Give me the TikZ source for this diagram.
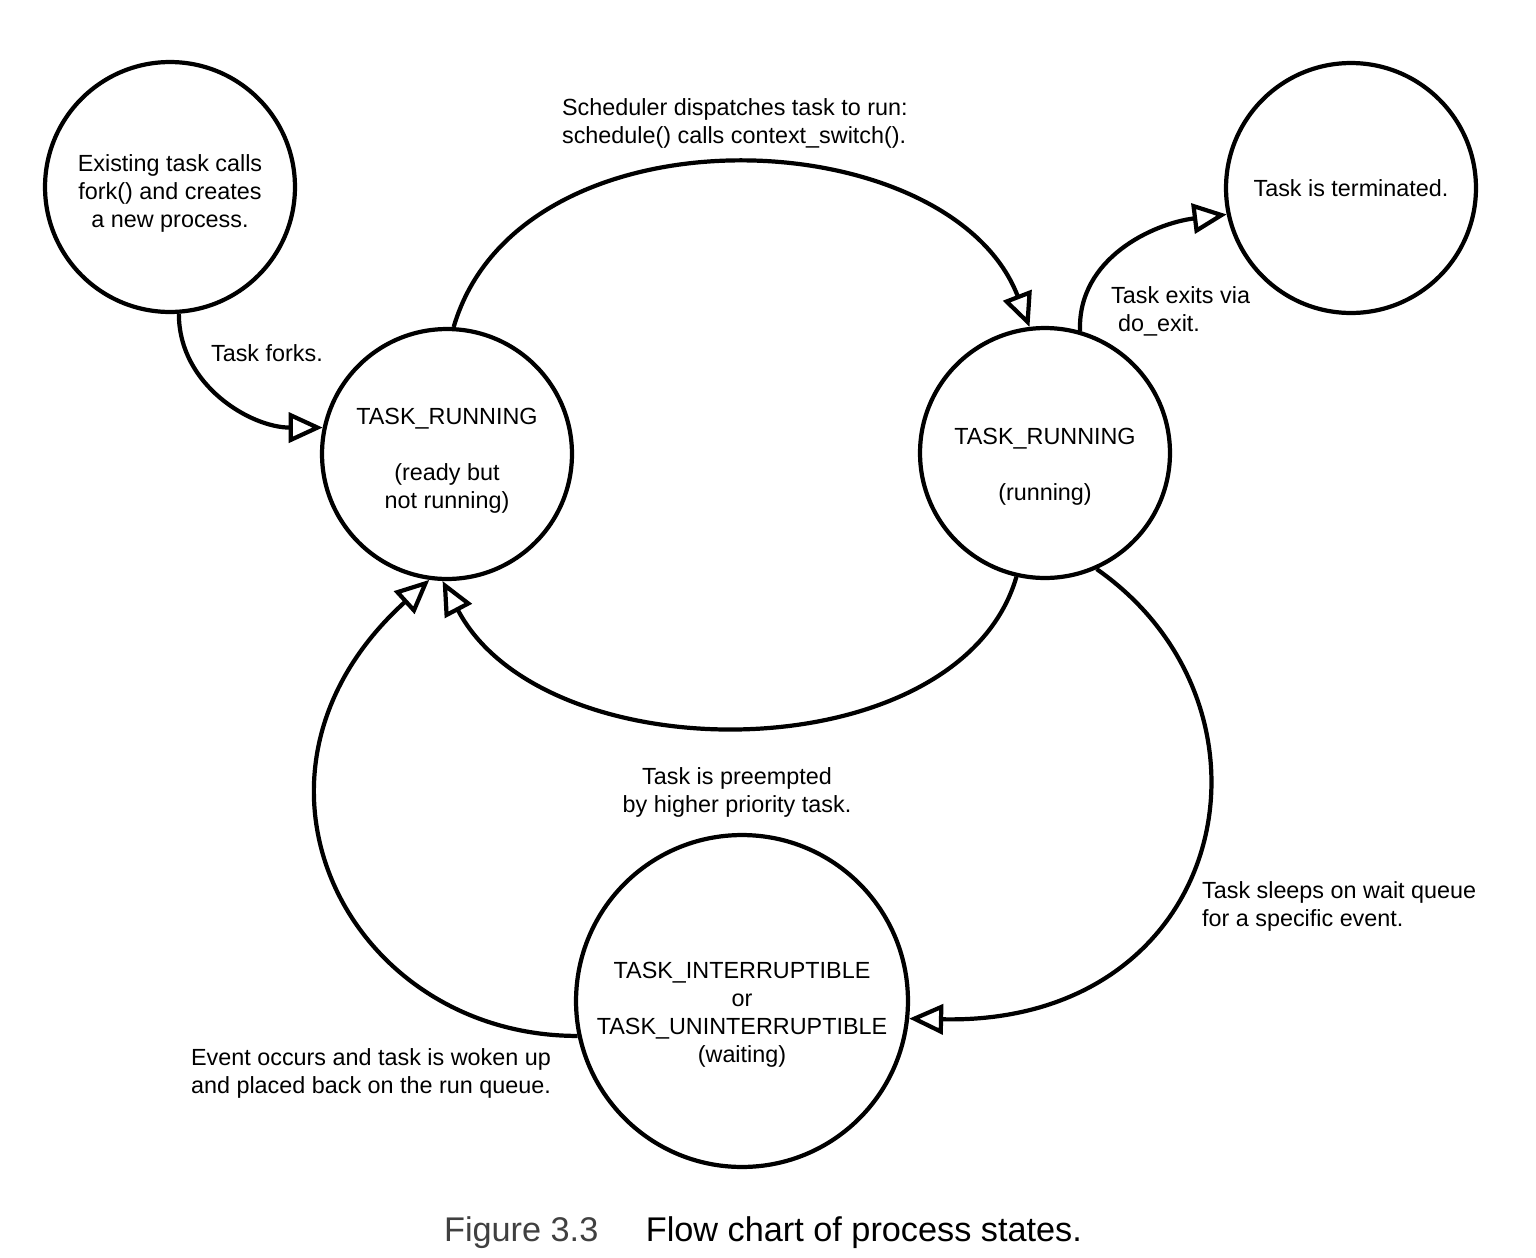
\documentclass[tikz,border=0pt]{standalone}
\usepackage{fontspec}
\setmainfont{Liberation Sans}
\usetikzlibrary{arrows.meta}

\begin{document}
\begin{tikzpicture}[x=0.02cm,y=0.02cm,line width=2.4pt,
  font=\fontsize{13.3}{15.9}\selectfont,
  etat/.style={circle,draw,minimum size=5cm,inner sep=0pt,align=center},
  fleche/.style={-{Triangle[open,length=0.68cm,width=0.6cm]}},
  note/.style={inner sep=0pt}]
\useasboundingbox (0,0) rectangle (1536,-1258);
% les etats
\foreach \nom/\x/\y/\haut/\texte in {nouv/170/-187/0.59cm/{Existing task calls\\fork() and creates\\a new process.},
  pret/447/-454/0.59cm/{TASK\_RUNNING\\[15.9pt](ready but\\not running)},
  actif/1045/-453/0.87cm/{TASK\_RUNNING\\[15.9pt](running)},
  fin/1351/-188/0pt/{Task is terminated.}}
  \node[etat] (\nom) at (\x,\y) {\rule{0pt}{\haut}\texte};
\node[etat,minimum size=6.64cm] (attente) at (742,-1001) {\rule{0pt}{0.87cm}TASK\_INTERRUPTIBLE\\or\\TASK\_UNINTERRUPTIBLE\\(waiting)};
% les transitions
\draw[fleche] (nouv.-86) to[out=-90,in=180] (pret.168);
\draw[fleche] (pret.87) .. controls +(66,226) and +(-80,208) .. (actif.97);
\draw[fleche] (actif.74) to[out=92,in=187] (fin.192);
\draw[fleche] (actif.-103) .. controls +(-57,-196) and +(103,-195) .. (pret.-92);
\draw[fleche] (actif.-66) .. controls +(200,-140) and +(320,-7) .. (attente.-6);
\draw[fleche] (attente.192) .. controls +(-230,0) and +(-215,-195) .. (pret.-98);
% les commentaires
\node[note,anchor=base west] (forks) at (209,-361) {Task forks.};
\node[note,anchor=west,align=left] (dispatch) at (560,-123) {Scheduler dispatches task to run:\\schedule() calls context\_switch().};
\node[note,anchor=west,align=left] (sortie) at (1109,-311) {Task exits via\\\hspace*{0.3em}do\_exit.};
\node[note,align=center] (preempt) at (737,-792) {Task is preempted\\by higher priority task.};
\node[note,anchor=west,align=left] (sommeil) at (1200,-906) {Task sleeps on wait queue\\for a specific event.};
\node[note,anchor=west,align=left] (reveil) at (189,-1073) {Event occurs and task is woken up\\and placed back on the run queue.};
\node[note,anchor=base west,font=\fontsize{19.5}{23}\selectfont] (legende) at (442,-1241)
  {\textcolor{black!75}{Figure 3.3}\hspace{0.95cm}Flow chart of process states.};
\end{tikzpicture}
\end{document}
